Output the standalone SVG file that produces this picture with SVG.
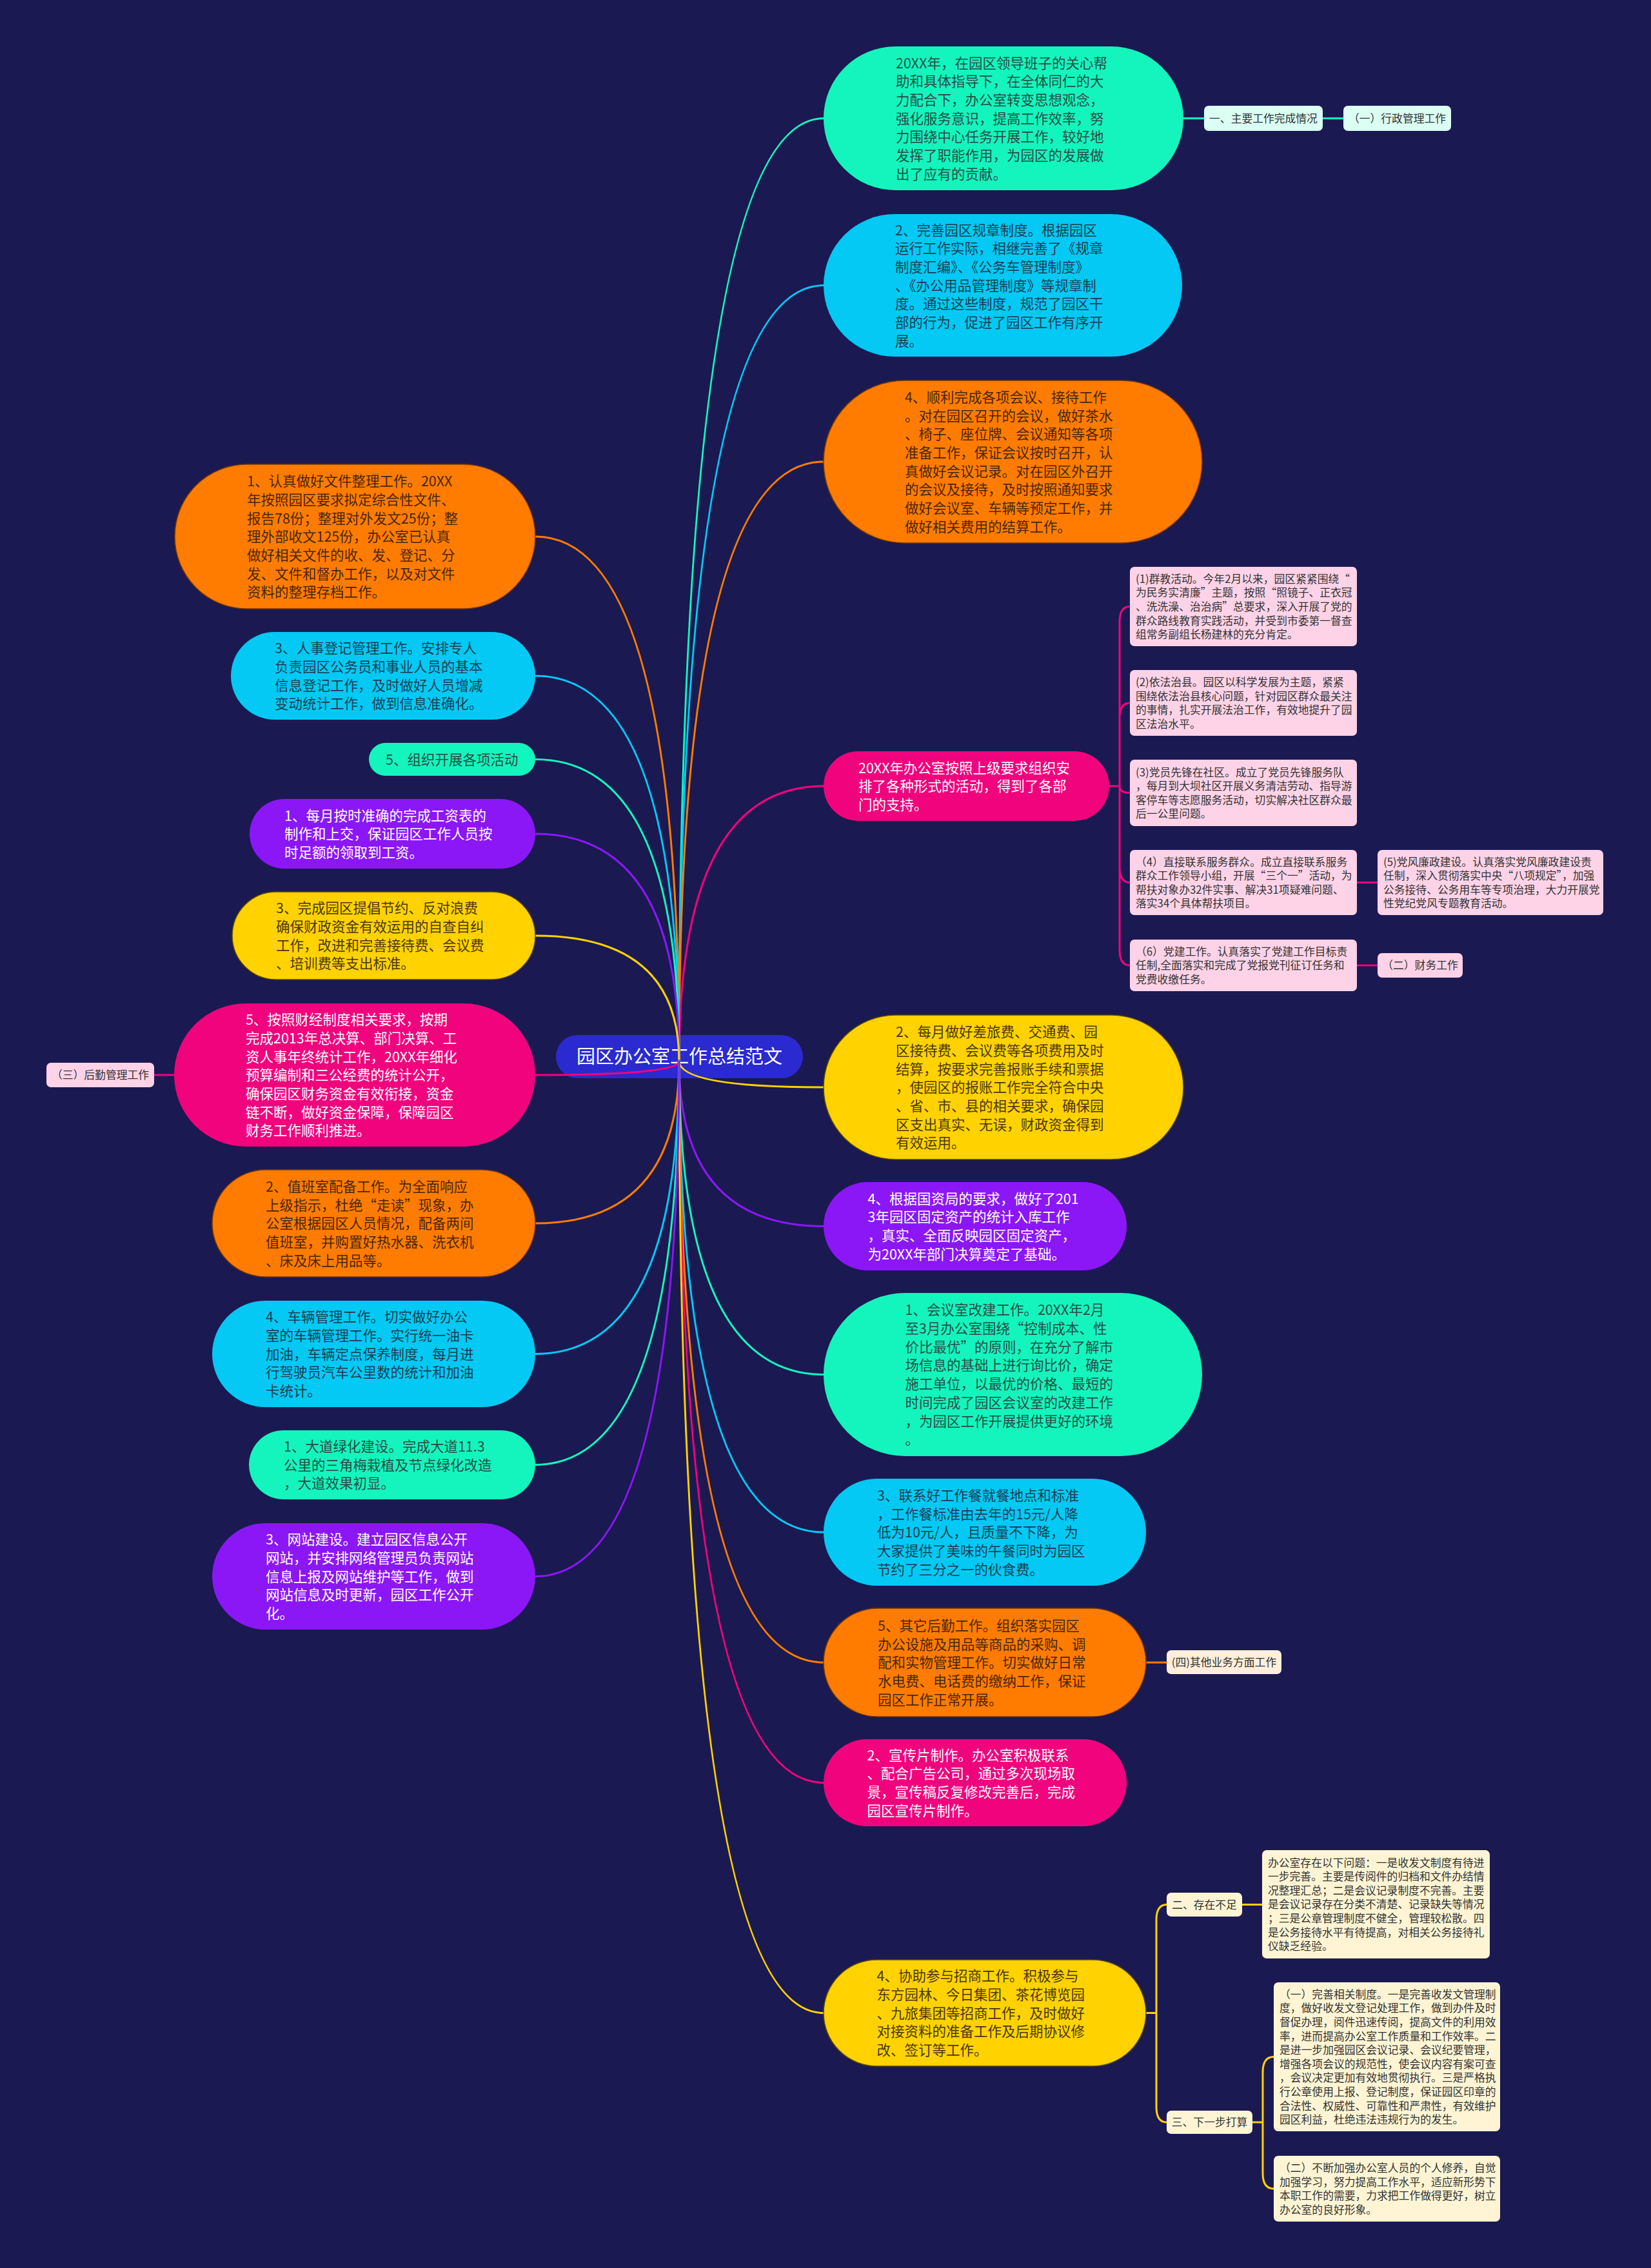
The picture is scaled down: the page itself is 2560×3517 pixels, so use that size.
<svg xmlns="http://www.w3.org/2000/svg" width="2560" height="3517" viewBox="0 0 2560 3517">
<style>
.t{font-family:"Noto Sans CJK SC","Noto Sans",sans-serif;font-size:21.5px}
.s{font-family:"Noto Sans CJK SC","Noto Sans",sans-serif;font-size:16.8px;fill:#333}
.rt{font-family:"Noto Sans CJK SC","Noto Sans",sans-serif;font-size:29px;fill:#fff}
.conn path{fill:none;stroke-width:3;stroke-linecap:round}
.g{fill:#14f5bd}.c{fill:#03c9f4}.o{fill:#ff7c00;stroke:#7a3a00;stroke-width:1.5}.p{fill:#f1037d}.y{fill:#ffd200;stroke:#5b4a00;stroke-width:1.5}.v{fill:#8b17f6}
.gt{fill:#244d45}.ct{fill:#163f52}.ot{fill:#4a2600}.yt{fill:#4a3800}.wt{fill:#fff}
.mint{fill:#dbfff3}.pk{fill:#ffd3e7}.cr{fill:#fff5d4}.pe{fill:#ffefdb}
.sg{stroke:#14f5bd}.sc{stroke:#03c9f4}.so{stroke:#ff7c00}.sp{stroke:#f1037d}.sy{stroke:#ffd200}.sv{stroke:#8b17f6}
</style>
<rect width="2560" height="3517" fill="#1b1951"/>

<g id="root">
<rect x="862" y="1605" width="383" height="67" rx="33.5" fill="#2a2ad0"/>
<text class="rt" x="1053.5" y="1649" text-anchor="middle">园区办公室工作总结范文</text>
</g>

<g id="connectors" class="conn">
<path class="sg" d="M1053 1645Q1053 183.5 1277 183.5"/>
<path class="sc" d="M1053 1645Q1053 442.5 1277 442.5"/>
<path class="so" d="M1053 1645Q1053 716 1277 716"/>
<path class="sp" d="M1053 1645Q1053 1219 1277 1219"/>
<path class="sy" d="M1053 1645Q1053 1686 1277 1686"/>
<path class="sv" d="M1053 1645Q1053 1901.5 1277 1901.5"/>
<path class="sg" d="M1053 1645Q1053 2131.5 1277 2131.5"/>
<path class="sc" d="M1053 1645Q1053 2376 1277 2376"/>
<path class="so" d="M1053 1645Q1053 2578 1277 2578"/>
<path class="sp" d="M1053 1645Q1053 2764.5 1277 2764.5"/>
<path class="sy" d="M1053 1645Q1053 3121.5 1277 3121.5"/>
<path class="so" d="M1053 1645Q1053 832 830 832"/>
<path class="sc" d="M1053 1645Q1053 1048 830 1048"/>
<path class="sg" d="M1053 1645Q1053 1177.5 830 1177.5"/>
<path class="sv" d="M1053 1645Q1053 1293 830 1293"/>
<path class="sy" d="M1053 1645Q1053 1451 830 1451"/>
<path class="sp" d="M1053 1645Q1053 1667 830 1667"/>
<path class="so" d="M1053 1645Q1053 1897 830 1897"/>
<path class="sc" d="M1053 1645Q1053 2099.5 830 2099.5"/>
<path class="sg" d="M1053 1645Q1053 2271.5 830 2271.5"/>
<path class="sv" d="M1053 1645Q1053 2444.5 830 2444.5"/>
<path class="sg" d="M1835 183.5H1867M2051 183.5H2083"/>
<path class="sp" d="M1720 1219H1736M1736 1219V964.5Q1736 940.5 1752 940.5M1736 1219V1114Q1736 1090 1752 1090M1736 1219Q1736 1229.5 1752 1229.5M1736 1219V1344.5Q1736 1368.5 1752 1368.5M1736 1219V1473Q1736 1497 1752 1497M2104 1368.5H2136M2104 1497H2136"/>
<path class="sp" d="M270 1667H239"/>
<path class="so" d="M1777 2578H1809"/>
<path class="sy" d="M1777 3121.5H1793M1793 3121.5V2977.5Q1793 2953.5 1809 2953.5M1793 3121.5V3267Q1793 3291 1809 3291M1926 2953.5H1957M1942 3291H1958M1958 3291V3213.5Q1958 3189.5 1975 3189.5M1958 3291V3370Q1958 3394 1975 3394"/>
</g>

<g id="r1"><rect class="g" x="1277" y="72" width="558" height="223" rx="111.5"/>
<text class="t gt" y="105.6"><tspan x="1389">20XX年，在园区领导班子的关心帮</tspan><tspan x="1389" dy="28.7">助和具体指导下，在全体同仁的大</tspan><tspan x="1389" dy="28.7">力配合下，办公室转变思想观念，</tspan><tspan x="1389" dy="28.7">强化服务意识，提高工作效率，努</tspan><tspan x="1389" dy="28.7">力围绕中心任务开展工作，较好地</tspan><tspan x="1389" dy="28.7">发挥了职能作用，为园区的发展做</tspan><tspan x="1389" dy="28.7">出了应有的贡献。</tspan></text></g>
<g id="r1a"><rect class="mint" x="1867" y="164" width="184" height="39" rx="7"/><text class="s" x="1959" y="189.9" text-anchor="middle">一、主要工作完成情况</text></g>
<g id="r1b"><rect class="mint" x="2083" y="164" width="167" height="39" rx="7"/><text class="s" x="2166.5" y="189.9" text-anchor="middle">（一）行政管理工作</text></g>

<g id="r2"><rect class="c" x="1277" y="332" width="556" height="221" rx="110.5"/>
<text class="t ct" y="364.6"><tspan x="1388">2、完善园区规章制度。根据园区</tspan><tspan x="1388" dy="28.7">运行工作实际，相继完善了《规章</tspan><tspan x="1388" dy="28.7">制度汇编》、《公务车管理制度》</tspan><tspan x="1388" dy="28.7">、《办公用品管理制度》等规章制</tspan><tspan x="1388" dy="28.7">度。通过这些制度，规范了园区干</tspan><tspan x="1388" dy="28.7">部的行为，促进了园区工作有序开</tspan><tspan x="1388" dy="28.7">展。</tspan></text></g>

<g id="r3"><rect class="o" x="1277" y="590" width="587" height="252" rx="126"/>
<text class="t ot" y="623.8"><tspan x="1403">4、顺利完成各项会议、接待工作</tspan><tspan x="1403" dy="28.7">。对在园区召开的会议，做好茶水</tspan><tspan x="1403" dy="28.7">、椅子、座位牌、会议通知等各项</tspan><tspan x="1403" dy="28.7">准备工作，保证会议按时召开，认</tspan><tspan x="1403" dy="28.7">真做好会议记录。对在园区外召开</tspan><tspan x="1403" dy="28.7">的会议及接待，及时按照通知要求</tspan><tspan x="1403" dy="28.7">做好会议室、车辆等预定工作，并</tspan><tspan x="1403" dy="28.7">做好相关费用的结算工作。</tspan></text></g>

<g id="r4"><rect class="p" x="1277" y="1165" width="443" height="108" rx="54"/>
<text class="t wt" y="1198.5"><tspan x="1331">20XX年办公室按照上级要求组织安</tspan><tspan x="1331" dy="28.7">排了各种形式的活动，得到了各部</tspan><tspan x="1331" dy="28.7">门的支持。</tspan></text></g>

<g id="p1"><rect class="pk" x="1752" y="879" width="352" height="123" rx="7"/>
<text class="s" y="903.7"><tspan x="1761">(1)群教活动。今年2月以来，园区紧紧围绕“</tspan><tspan x="1761" dy="21.6">为民务实清廉”主题，按照“照镜子、正衣冠</tspan><tspan x="1761" dy="21.6">、洗洗澡、治治病”总要求，深入开展了党的</tspan><tspan x="1761" dy="21.6">群众路线教育实践活动，并受到市委第一督查</tspan><tspan x="1761" dy="21.6">组常务副组长杨建林的充分肯定。</tspan></text></g>
<g id="p2"><rect class="pk" x="1752" y="1039" width="352" height="102" rx="7"/>
<text class="s" y="1064"><tspan x="1761">(2)依法治县。园区以科学发展为主题，紧紧</tspan><tspan x="1761" dy="21.6">围绕依法治县核心问题，针对园区群众最关注</tspan><tspan x="1761" dy="21.6">的事情，扎实开展法治工作，有效地提升了园</tspan><tspan x="1761" dy="21.6">区法治水平。</tspan></text></g>
<g id="p3"><rect class="pk" x="1752" y="1178" width="352" height="103" rx="7"/>
<text class="s" y="1203.5"><tspan x="1761">(3)党员先锋在社区。成立了党员先锋服务队</tspan><tspan x="1761" dy="21.6">，每月到大坝社区开展义务清洁劳动、指导游</tspan><tspan x="1761" dy="21.6">客停车等志愿服务活动，切实解决社区群众最</tspan><tspan x="1761" dy="21.6">后一公里问题。</tspan></text></g>
<g id="p4"><rect class="pk" x="1752" y="1318" width="352" height="101" rx="7"/>
<text class="s" y="1342.5"><tspan x="1761">（4）直接联系服务群众。成立直接联系服务</tspan><tspan x="1761" dy="21.6">群众工作领导小组，开展“三个一”活动，为</tspan><tspan x="1761" dy="21.6">帮扶对象办32件实事、解决31项疑难问题、</tspan><tspan x="1761" dy="21.6">落实34个具体帮扶项目。</tspan></text></g>
<g id="p5"><rect class="pk" x="2136" y="1318" width="350" height="101" rx="7"/>
<text class="s" y="1342.5"><tspan x="2145">(5)党风廉政建设。认真落实党风廉政建设责</tspan><tspan x="2145" dy="21.6">任制，深入贯彻落实中央“八项规定”，加强</tspan><tspan x="2145" dy="21.6">公务接待、公务用车等专项治理，大力开展党</tspan><tspan x="2145" dy="21.6">性党纪党风专题教育活动。</tspan></text></g>
<g id="p6"><rect class="pk" x="1752" y="1457" width="352" height="80" rx="7"/>
<text class="s" y="1481.8"><tspan x="1761">（6）党建工作。认真落实了党建工作目标责</tspan><tspan x="1761" dy="21.6">任制,全面落实和完成了党报党刊征订任务和</tspan><tspan x="1761" dy="21.6">党费收缴任务。</tspan></text></g>
<g id="p7"><rect class="pk" x="2136" y="1478" width="132" height="38" rx="7"/><text class="s" x="2202" y="1503.4" text-anchor="middle">（二）财务工作</text></g>

<g id="r5"><rect class="y" x="1277" y="1574" width="558" height="224" rx="112"/>
<text class="t yt" y="1608.1"><tspan x="1389">2、每月做好差旅费、交通费、园</tspan><tspan x="1389" dy="28.7">区接待费、会议费等各项费用及时</tspan><tspan x="1389" dy="28.7">结算，按要求完善报账手续和票据</tspan><tspan x="1389" dy="28.7">，使园区的报账工作完全符合中央</tspan><tspan x="1389" dy="28.7">、省、市、县的相关要求，确保园</tspan><tspan x="1389" dy="28.7">区支出真实、无误，财政资金得到</tspan><tspan x="1389" dy="28.7">有效运用。</tspan></text></g>

<g id="r6"><rect class="v" x="1277" y="1833" width="470" height="137" rx="68.5"/>
<text class="t wt" y="1866.7"><tspan x="1345.5">4、根据国资局的要求，做好了201</tspan><tspan x="1345.5" dy="28.7">3年园区固定资产的统计入库工作</tspan><tspan x="1345.5" dy="28.7">，真实、全面反映园区固定资产，</tspan><tspan x="1345.5" dy="28.7">为20XX年部门决算奠定了基础。</tspan></text></g>

<g id="r7"><rect class="g" x="1277" y="2005" width="587" height="253" rx="126.5"/>
<text class="t gt" y="2039.3"><tspan x="1403.5">1、会议室改建工作。20XX年2月</tspan><tspan x="1403.5" dy="28.7">至3月办公室围绕“控制成本、性</tspan><tspan x="1403.5" dy="28.7">价比最优”的原则，在充分了解市</tspan><tspan x="1403.5" dy="28.7">场信息的基础上进行询比价，确定</tspan><tspan x="1403.5" dy="28.7">施工单位，以最优的价格、最短的</tspan><tspan x="1403.5" dy="28.7">时间完成了园区会议室的改建工作</tspan><tspan x="1403.5" dy="28.7">，为园区工作开展提供更好的环境</tspan><tspan x="1403.5" dy="28.7">。</tspan></text></g>

<g id="r8"><rect class="c" x="1277" y="2293" width="500" height="166" rx="83"/>
<text class="t ct" y="2326.8"><tspan x="1360">3、联系好工作餐就餐地点和标准</tspan><tspan x="1360" dy="28.7">，工作餐标准由去年的15元/人降</tspan><tspan x="1360" dy="28.7">低为10元/人，且质量不下降，为</tspan><tspan x="1360" dy="28.7">大家提供了美味的午餐同时为园区</tspan><tspan x="1360" dy="28.7">节约了三分之一的伙食费。</tspan></text></g>

<g id="r9"><rect class="o" x="1277" y="2494" width="500" height="168" rx="84"/>
<text class="t ot" y="2528.8"><tspan x="1361">5、其它后勤工作。组织落实园区</tspan><tspan x="1361" dy="28.7">办公设施及用品等商品的采购、调</tspan><tspan x="1361" dy="28.7">配和实物管理工作。切实做好日常</tspan><tspan x="1361" dy="28.7">水电费、电话费的缴纳工作，保证</tspan><tspan x="1361" dy="28.7">园区工作正常开展。</tspan></text></g>
<g id="r9a"><rect class="pe" x="1809" y="2559" width="178" height="37" rx="7"/><text class="s" x="1898" y="2583.9" text-anchor="middle">(四)其他业务方面工作</text></g>

<g id="r10"><rect class="p" x="1277" y="2697" width="470" height="135" rx="67.5"/>
<text class="t wt" y="2729.7"><tspan x="1344.5">2、宣传片制作。办公室积极联系</tspan><tspan x="1344.5" dy="28.7">、配合广告公司，通过多次现场取</tspan><tspan x="1344.5" dy="28.7">景，宣传稿反复修改完善后，完成</tspan><tspan x="1344.5" dy="28.7">园区宣传片制作。</tspan></text></g>

<g id="r11"><rect class="y" x="1277" y="3039" width="500" height="165" rx="82.5"/>
<text class="t yt" y="3072.3"><tspan x="1359.5">4、协助参与招商工作。积极参与</tspan><tspan x="1359.5" dy="28.7">东方园林、今日集团、茶花博览园</tspan><tspan x="1359.5" dy="28.7">、九旅集团等招商工作，及时做好</tspan><tspan x="1359.5" dy="28.7">对接资料的准备工作及后期协议修</tspan><tspan x="1359.5" dy="28.7">改、签订等工作。</tspan></text></g>
<g id="r11a"><rect class="cr" x="1809" y="2935" width="117" height="37" rx="7"/><text class="s" x="1867.5" y="2959.9" text-anchor="middle">二、存在不足</text></g>
<g id="r11b"><rect class="cr" x="1809" y="3273" width="133" height="36" rx="7"/><text class="s" x="1875.5" y="3297.4" text-anchor="middle">三、下一步打算</text></g>
<g id="b1"><rect class="cr" x="1957" y="2869" width="353" height="168" rx="7"/>
<text class="s" y="2894.6"><tspan x="1966">办公室存在以下问题：一是收发文制度有待进</tspan><tspan x="1966" dy="21.6">一步完善。主要是传阅件的归档和文件办结情</tspan><tspan x="1966" dy="21.6">况整理汇总；二是会议记录制度不完善。主要</tspan><tspan x="1966" dy="21.6">是会议记录存在分类不清楚、记录缺失等情况</tspan><tspan x="1966" dy="21.6">；三是公章管理制度不健全，管理较松散。四</tspan><tspan x="1966" dy="21.6">是公务接待水平有待提高，对相关公务接待礼</tspan><tspan x="1966" dy="21.6">仪缺乏经验。</tspan></text></g>
<g id="b2"><rect class="cr" x="1975" y="3074" width="351" height="231" rx="7"/>
<text class="s" y="3098.7"><tspan x="1984">（一）完善相关制度。一是完善收发文管理制</tspan><tspan x="1984" dy="21.6">度，做好收发文登记处理工作，做到办件及时</tspan><tspan x="1984" dy="21.6">督促办理，阅件迅速传阅，提高文件的利用效</tspan><tspan x="1984" dy="21.6">率，进而提高办公室工作质量和工作效率。二</tspan><tspan x="1984" dy="21.6">是进一步加强园区会议记录、会议纪要管理，</tspan><tspan x="1984" dy="21.6">增强各项会议的规范性，使会议内容有案可查</tspan><tspan x="1984" dy="21.6">，会议决定更加有效地贯彻执行。三是严格执</tspan><tspan x="1984" dy="21.6">行公章使用上报、登记制度，保证园区印章的</tspan><tspan x="1984" dy="21.6">合法性、权威性、可靠性和严肃性，有效维护</tspan><tspan x="1984" dy="21.6">园区利益，杜绝违法违规行为的发生。</tspan></text></g>
<g id="b3"><rect class="cr" x="1975" y="3343" width="351" height="102" rx="7"/>
<text class="s" y="3368"><tspan x="1984">（二）不断加强办公室人员的个人修养，自觉</tspan><tspan x="1984" dy="21.6">加强学习，努力提高工作水平，适应新形势下</tspan><tspan x="1984" dy="21.6">本职工作的需要，力求把工作做得更好，树立</tspan><tspan x="1984" dy="21.6">办公室的良好形象。</tspan></text></g>

<g id="l1"><rect class="o" x="271" y="720" width="559" height="224" rx="112"/>
<text class="t ot" y="754.1"><tspan x="383">1、认真做好文件整理工作。20XX</tspan><tspan x="383" dy="28.7">年按照园区要求拟定综合性文件、</tspan><tspan x="383" dy="28.7">报告78份；整理对外发文25份；整</tspan><tspan x="383" dy="28.7">理外部收文125份，办公室已认真</tspan><tspan x="383" dy="28.7">做好相关文件的收、发、登记、分</tspan><tspan x="383" dy="28.7">发、文件和督办工作，以及对文件</tspan><tspan x="383" dy="28.7">资料的整理存档工作。</tspan></text></g>

<g id="l2"><rect class="c" x="358" y="980" width="472" height="136" rx="68"/>
<text class="t ct" y="1013.2"><tspan x="426">3、人事登记管理工作。安排专人</tspan><tspan x="426" dy="28.7">负责园区公务员和事业人员的基本</tspan><tspan x="426" dy="28.7">信息登记工作，及时做好人员增减</tspan><tspan x="426" dy="28.7">变动统计工作，做到信息准确化。</tspan></text></g>

<g id="l3"><rect class="g" x="572" y="1152" width="258" height="51" rx="25.5"/>
<text class="t gt" x="598" y="1185.7">5、组织开展各项活动</text></g>

<g id="l4"><rect class="v" x="387" y="1239" width="443" height="108" rx="54"/>
<text class="t wt" y="1272.5"><tspan x="441">1、每月按时准确的完成工资表的</tspan><tspan x="441" dy="28.7">制作和上交，保证园区工作人员按</tspan><tspan x="441" dy="28.7">时足额的领取到工资。</tspan></text></g>

<g id="l5"><rect class="y" x="360" y="1383" width="470" height="136" rx="68"/>
<text class="t yt" y="1416.2"><tspan x="428">3、完成园区提倡节约、反对浪费</tspan><tspan x="428" dy="28.7">确保财政资金有效运用的自查自纠</tspan><tspan x="428" dy="28.7">工作，改进和完善接待费、会议费</tspan><tspan x="428" dy="28.7">、培训费等支出标准。</tspan></text></g>

<g id="l6"><rect class="p" x="270" y="1556" width="560" height="222" rx="111"/>
<text class="t wt" y="1589.1"><tspan x="381">5、按照财经制度相关要求，按期</tspan><tspan x="381" dy="28.7">完成2013年总决算、部门决算、工</tspan><tspan x="381" dy="28.7">资人事年终统计工作，20XX年细化</tspan><tspan x="381" dy="28.7">预算编制和三公经费的统计公开，</tspan><tspan x="381" dy="28.7">确保园区财务资金有效衔接，资金</tspan><tspan x="381" dy="28.7">链不断，做好资金保障，保障园区</tspan><tspan x="381" dy="28.7">财务工作顺利推进。</tspan></text></g>
<g id="l6a"><rect class="pk" x="72" y="1648" width="167" height="38" rx="7"/><text class="s" x="155.5" y="1673.4" text-anchor="middle">（三）后勤管理工作</text></g>

<g id="l7"><rect class="o" x="329" y="1814" width="501" height="166" rx="83"/>
<text class="t ot" y="1847.8"><tspan x="412">2、值班室配备工作。为全面响应</tspan><tspan x="412" dy="28.7">上级指示，杜绝“走读”现象，办</tspan><tspan x="412" dy="28.7">公室根据园区人员情况，配备两间</tspan><tspan x="412" dy="28.7">值班室，并购置好热水器、洗衣机</tspan><tspan x="412" dy="28.7">、床及床上用品等。</tspan></text></g>

<g id="l8"><rect class="c" x="329" y="2017" width="501" height="165" rx="82.5"/>
<text class="t ct" y="2050.3"><tspan x="412">4、车辆管理工作。切实做好办公</tspan><tspan x="412" dy="28.7">室的车辆管理工作。实行统一油卡</tspan><tspan x="412" dy="28.7">加油，车辆定点保养制度，每月进</tspan><tspan x="412" dy="28.7">行驾驶员汽车公里数的统计和加油</tspan><tspan x="412" dy="28.7">卡统计。</tspan></text></g>

<g id="l9"><rect class="g" x="386" y="2218" width="444" height="107" rx="53.5"/>
<text class="t gt" y="2251"><tspan x="440">1、大道绿化建设。完成大道11.3</tspan><tspan x="440" dy="28.7">公里的三角梅栽植及节点绿化改造</tspan><tspan x="440" dy="28.7">，大道效果初显。</tspan></text></g>

<g id="l10"><rect class="v" x="329" y="2362" width="501" height="165" rx="82.5"/>
<text class="t wt" y="2395.3"><tspan x="412">3、网站建设。建立园区信息公开</tspan><tspan x="412" dy="28.7">网站，并安排网络管理员负责网站</tspan><tspan x="412" dy="28.7">信息上报及网站维护等工作，做到</tspan><tspan x="412" dy="28.7">网站信息及时更新，园区工作公开</tspan><tspan x="412" dy="28.7">化。</tspan></text></g>
</svg>
